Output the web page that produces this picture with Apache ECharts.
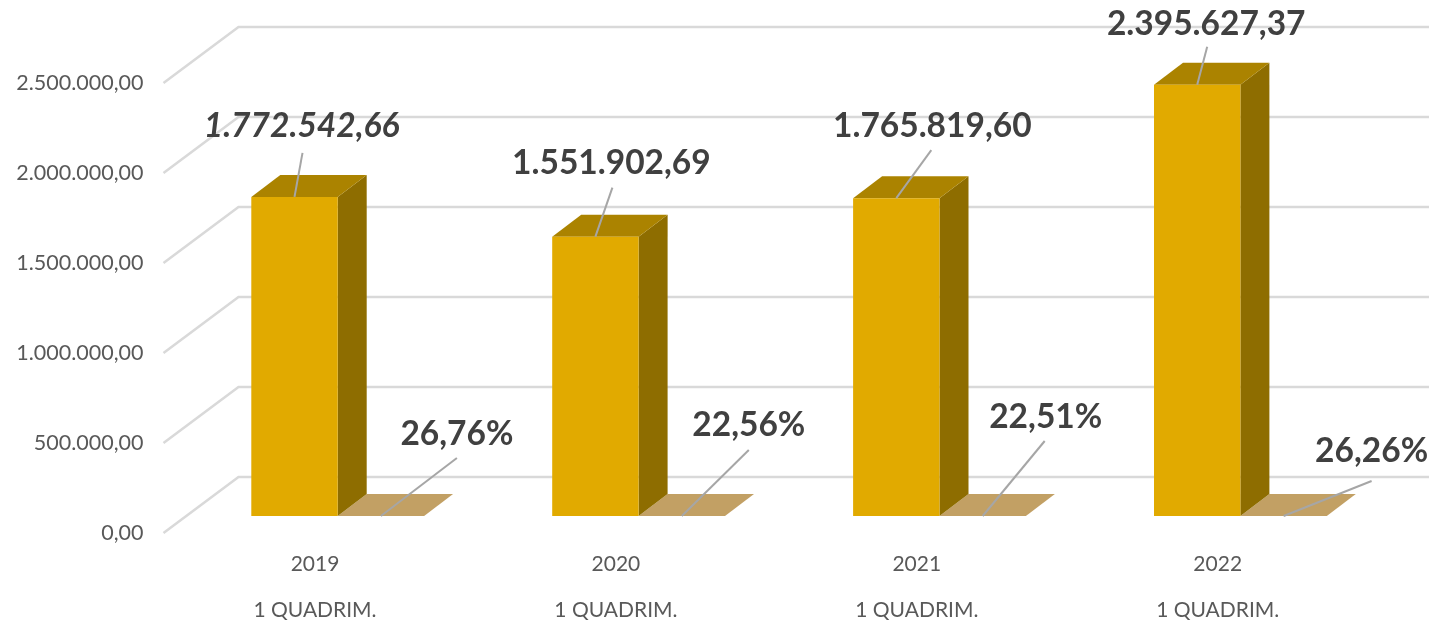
<!DOCTYPE html>
<html>
<head>
<meta charset="utf-8">
<style>html,body{margin:0;padding:0;background:#fff}#c{width:1429px;height:621px}</style>
<script src="https://cdn.jsdelivr.net/npm/echarts@6/dist/echarts.min.js"></script>
</head>
<body>
<div id="c"></div>
<script>
// --- data ---
const years = ['2019', '2020', '2021', '2022'];
const periodLabel = '1 QUADRIM.';
const revenue = [1772542.66, 1551902.69, 1765819.60, 2395627.37];
const percent = [26.76, 22.56, 22.51, 26.26];
const axisTicks = [0, 500000, 1000000, 1500000, 2000000, 2500000];

// --- drawing constants ---
const FONT = 'Lato';
const C = {front:'#E1AA00', side:'#8E6D00', top:'#AB8300', plane:'#C2A064',
  grid:'#D9D9D9', leader:'#A6A6A6', big:'#404040', axis:'#595959'};
const BAR_W = 86.4, BAR_LEFT = -63.7, DX = 29, DY = -22, BASE_LIFT = -17;
const WALL_DX = 75, WALL_DY = -56, WALL_LEFT = 163.5;
const mainLayout = [
  {lead:[8,-44],  text:[7,-70.5], italic:true},
  {lead:[17,-49], text:[16,-73.5]},
  {lead:[35,-48], text:[36,-71.5]},
  {lead:[10,-38], text:[9,-60.5]}
];
const pctLayout = [
  {lead:[76,-58], text:[76,-81.5]},
  {lead:[67,-66], text:[67,-90.5]},
  {lead:[62,-75], text:[63,-98.5]},
  {lead:[88,-35], text:[88,-64.5]}
];

function fmt(v, d) {
  const parts = v.toFixed(d).split('.');
  return parts[0].replace(/\B(?=(\d{3})+$)/g, '.') + ',' + parts[1];
}
function box(x, yBase, yTop, opts) {
  const w = BAR_W, top = yTop, out = [];
  out.push({type:'polygon', shape:{points:[[x+w,yBase],[x+w+DX,yBase+DY],[x+w+DX,top+DY],[x+w,top]]}, style:{fill:opts.side}});
  out.push({type:'polygon', shape:{points:[[x,top],[x+DX,top+DY],[x+w+DX,top+DY],[x+w,top]]}, style:{fill:opts.top}});
  if (opts.front) out.push({type:'rect', shape:{x:x, y:top, width:w, height:yBase-top}, style:{fill:opts.front}});
  return out;
}
function leaderAndText(sx, sy, lay, txt) {
  return [
    {type:'line', shape:{x1:sx, y1:sy, x2:sx+lay.lead[0], y2:sy+lay.lead[1]}, style:{stroke:C.leader, lineWidth:2}},
    {type:'text', x:sx+lay.text[0], y:sy+lay.text[1], style:{text:txt, align:'center', verticalAlign:'middle',
      fill:C.big, font:(lay.italic?'italic ':'')+'bold 33.5px '+FONT}}
  ];
}

const chart = echarts.init(document.getElementById('c'), null, {renderer:'canvas'});
chart.setOption({
  animation:false,
  backgroundColor:'#fff',
  grid:{left:164.55, top:83, width:1203.6, height:450, outerBoundsMode:'none', containLabel:false},
  xAxis:{type:'category', data:years, axisLine:{show:false}, axisTick:{show:false}, splitLine:{show:false},
    axisLabel:{margin:8, color:C.axis, fontFamily:FONT, fontSize:21, lineHeight:46,
      formatter:function(v){return v+'\n'+periodLabel;}}},
  yAxis:{type:'value', min:0, max:2500000, interval:500000, axisLine:{show:false}, axisTick:{show:false}, splitLine:{show:false},
    axisLabel:{margin:21, color:C.axis, fontFamily:FONT, fontSize:21.5, formatter:function(v){return fmt(v,2);}}},
  series:[
    {type:'custom', name:'grid', z:1, silent:true, clip:false,
     data:axisTicks.map(function(t){return [0,t];}),
     encode:{x:0,y:1},
     renderItem:function(p,api){
       const y = api.coord([0,api.value(1)])[1];
       return {type:'polyline', shape:{points:[[WALL_LEFT,y],[WALL_LEFT+WALL_DX,y+WALL_DY],[1429,y+WALL_DY]]},
         style:{stroke:C.grid, lineWidth:2.5, fill:null}};
     }},
    {type:'custom', name:'Percentual', z:2, silent:true, clip:false,
     data:percent.map(function(v,i){return [i,v];}),
     encode:{x:0,y:1},
     renderItem:function(p,api){
       const i = api.value(0), v = api.value(1)/100;
       const c = api.coord([i,v]), z = api.coord([i,0]);
       const yBase = z[1]+BASE_LIFT, yTop = c[1]+BASE_LIFT;
       const x = c[0]+BAR_LEFT+BAR_W;
       return {type:'group', children: box(x,yBase,yTop,{side:C.plane, top:C.plane, front:C.plane})};
     }},
    {type:'custom', name:'Receita', z:3, silent:true, clip:false,
     data:revenue.map(function(v,i){return [i,v];}),
     encode:{x:0,y:1},
     renderItem:function(p,api){
       const i = api.value(0), v = api.value(1);
       const c = api.coord([i,v]), z = api.coord([i,0]);
       const yBase = z[1]+BASE_LIFT, yTop = c[1]+BASE_LIFT;
       const x = c[0]+BAR_LEFT;
       return {type:'group', children: box(x,yBase,yTop,{side:C.side, top:C.top, front:C.front})};
     }},
    {type:'custom', name:'rotulos', z:4, silent:true, clip:false,
     data:revenue.map(function(v,i){return [i,v];}),
     encode:{x:0,y:1},
     renderItem:function(p,api){
       const i = api.value(0), v = api.value(1);
       const c = api.coord([i,v]), z = api.coord([i,0]);
       const x = c[0]+BAR_LEFT;
       const sx1 = x+BAR_W/2, sy1 = c[1]+BASE_LIFT;
       const sx2 = x+BAR_W*1.5, sy2 = z[1]+BASE_LIFT;
       return {type:'group', children:
         leaderAndText(sx2,sy2,pctLayout[i],fmt(percent[i],2)+'%')
           .concat(leaderAndText(sx1,sy1,mainLayout[i],fmt(v,2)))};
     }}
  ]
});
</script>
</body>
</html>
